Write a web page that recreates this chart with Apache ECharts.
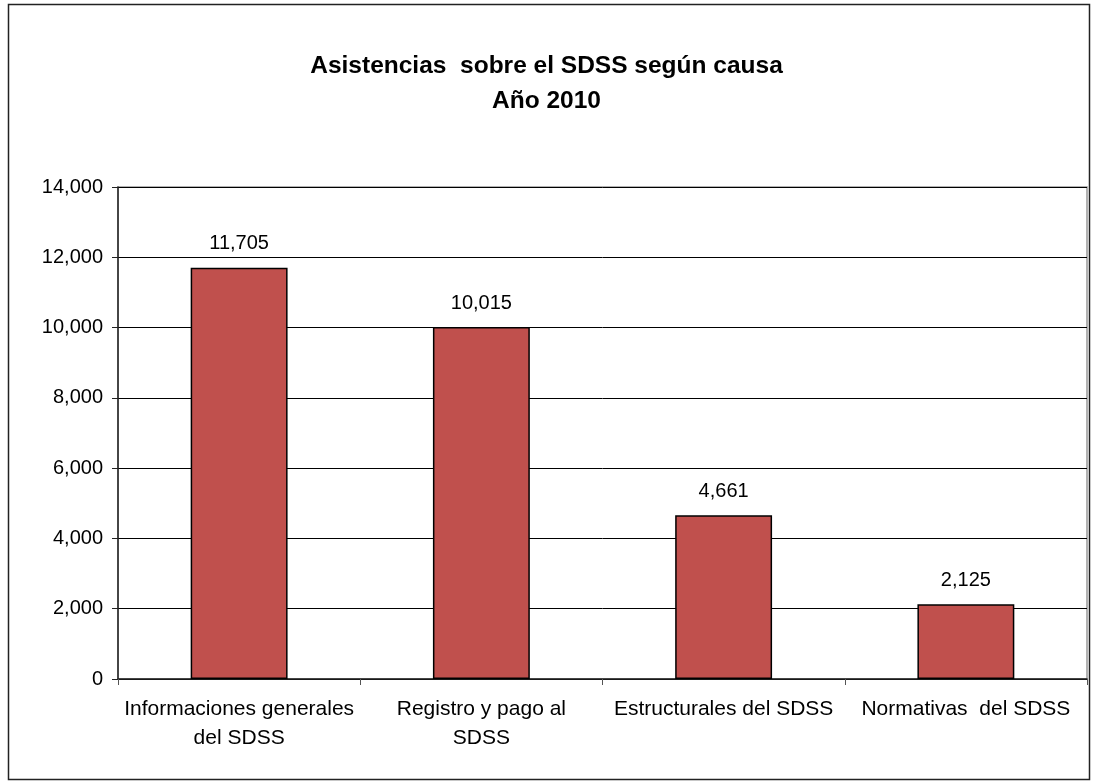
<!DOCTYPE html>
<html><head><meta charset="utf-8">
<script src="https://cdn.jsdelivr.net/npm/echarts@6/dist/echarts.min.js"></script>
<style>html,body{margin:0;padding:0;background:#fff}#c{width:1093px;height:784px}</style>
</head><body><div id="c"></div>
<script>
const categories = ["Informaciones generales\ndel SDSS", "Registro y pago al\nSDSS", "Estructurales del SDSS", "Normativas  del SDSS"];
const values = [11705, 10015, 4661, 2125];
const titleText = "Asistencias  sobre el SDSS según causa\nAño 2010";

const chart = echarts.init(document.getElementById('c'), null, {renderer: 'canvas'});
const fmt = v => v.toLocaleString('en-US');
const FONT = 'Liberation Sans, Arial, sans-serif';
chart.setOption({
  animation: false,
  backgroundColor: '#fff',
  title: {
    text: titleText, left: 'center', top: 44,
    textStyle: {fontFamily: FONT, fontWeight: 'bold', fontSize: 24.5, color: '#000', lineHeight: 35}
  },
  graphic: [{type: 'rect', shape: {x: 8.5, y: 4.5, width: 1081, height: 775}, style: {fill: null, stroke: '#222', lineWidth: 1.5}, silent: true}],
  grid: {left: 118, right: 6, top: 187, bottom: 105, show: true, borderColor: '#999', borderWidth: 1.5, backgroundColor: 'transparent'},
  xAxis: {
    type: 'category', data: categories,
    axisLine: {lineStyle: {color: '#222', width: 1.5}},
    axisTick: {show: true, length: 6, alignWithLabel: false, lineStyle: {color: '#555'}},
    axisLabel: {fontFamily: FONT, fontSize: 21, color: '#000', margin: 16, lineHeight: 29, interval: 0}
  },
  yAxis: {
    type: 'value', min: 0, max: 14000, interval: 2000,
    axisLine: {show: true, lineStyle: {color: '#222', width: 1.5}},
    axisTick: {show: true, length: 6, lineStyle: {color: '#222'}},
    axisLabel: {fontFamily: FONT, fontSize: 20, color: '#000', margin: 15, formatter: fmt},
    splitLine: {lineStyle: {color: '#000', width: 1}}
  },
  series: [{
    type: 'bar', data: values, barWidth: '40%',
    itemStyle: {color: '#C0504D', borderColor: '#000', borderWidth: 1.5},
    label: {show: true, position: 'top', distance: 14, fontFamily: FONT, fontSize: 20, color: '#000', formatter: p => fmt(p.value)}
  }]
});
</script></body></html>
